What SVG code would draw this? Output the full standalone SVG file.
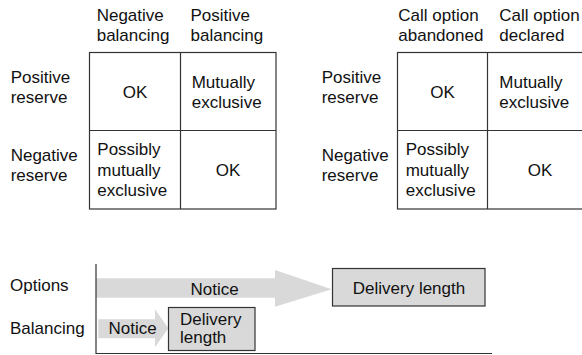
<svg xmlns="http://www.w3.org/2000/svg" width="582" height="355" viewBox="0 0 582 355">
<style>
text{font-family:"Liberation Sans",Arial,sans-serif;font-size:17px;fill:#111}
.m{text-anchor:middle}
.grid{fill:#fff;stroke:#333;stroke-width:1.2}
.gl{stroke:#333;stroke-width:1.2;fill:none}
.box{fill:#d9d9d9;stroke:#333;stroke-width:1.2}
.arr{fill:#d9d9d9;stroke:none}
.ax{stroke:#333;stroke-width:1.2;fill:none}
</style>
<rect width="582" height="355" fill="#fff"/>
<g id="grid1">
<text x="96.7" y="20.5">Negative</text><text x="96.7" y="40.5">balancing</text>
<text x="190.5" y="20.5">Positive</text><text x="190.5" y="40.5">balancing</text>
<text x="10.7" y="82.5">Positive</text><text x="10.7" y="103">reserve</text>
<text x="10.7" y="160.5">Negative</text><text x="10.7" y="181">reserve</text>
<rect class="grid" x="89.5" y="52.5" width="186.5" height="156.5"/>
<line class="gl" x1="180.5" y1="52.5" x2="180.5" y2="209"/>
<line class="gl" x1="89.5" y1="130.5" x2="276" y2="130.5"/>
<text class="m" x="135" y="98">OK</text>
<text x="191.7" y="87.5">Mutually</text><text x="191.7" y="108">exclusive</text>
<text x="97.3" y="155">Possibly</text><text x="97.3" y="175.5">mutually</text><text x="97.3" y="196">exclusive</text>
<text class="m" x="228" y="175.5">OK</text>
</g>
<g id="grid2">
<text x="398.3" y="20.5">Call option</text><text x="398.3" y="40.5">abandoned</text>
<text x="499.3" y="20.5">Call option</text><text x="499.3" y="40.5">declared</text>
<text x="321.7" y="82.5">Positive</text><text x="321.7" y="103">reserve</text>
<text x="321.7" y="160.5">Negative</text><text x="321.7" y="181">reserve</text>
<rect class="grid" x="397.5" y="52.5" width="190" height="156.5"/>
<line class="gl" x1="487.5" y1="52.5" x2="487.5" y2="209"/>
<line class="gl" x1="397.5" y1="130.5" x2="590" y2="130.5"/>
<text class="m" x="442.5" y="98">OK</text>
<text x="499.3" y="87.5">Mutually</text><text x="499.3" y="108">exclusive</text>
<text x="405.7" y="155">Possibly</text><text x="405.7" y="175.5">mutually</text><text x="405.7" y="196">exclusive</text>
<text class="m" x="540" y="175.5">OK</text>
</g>
<g id="labels">
<text x="10" y="291">Options</text>
<text x="10" y="334">Balancing</text>
</g>
<g id="connectors">
<polygon id="options-notice" class="arr" points="96,278.3 275,278.3 275,270 331.7,289.3 275,306.7 275,297.7 96,297.7"/>
<polygon id="balancing-notice" class="arr" points="98.3,319.3 155,319.3 155,309.3 168.3,328.3 155,347.3 155,338.3 98.3,338.3"/>
<polyline class="ax" points="96,264 96,353.5 492,353.5"/>
</g>
<g id="notice-options"><text class="m" x="214.7" y="295">Notice</text></g>
<g id="notice-balancing"><text class="m" x="132.7" y="334">Notice</text></g>
<g id="delivery-options">
<rect class="box" x="332.5" y="268.5" width="152.5" height="37.5"/>
<text class="m" x="409" y="294.3">Delivery length</text>
</g>
<g id="delivery-balancing">
<rect class="box" x="168.5" y="307.5" width="86.5" height="43"/>
<text x="180" y="325">Delivery</text><text x="180" y="343">length</text>
</g>
</svg>
